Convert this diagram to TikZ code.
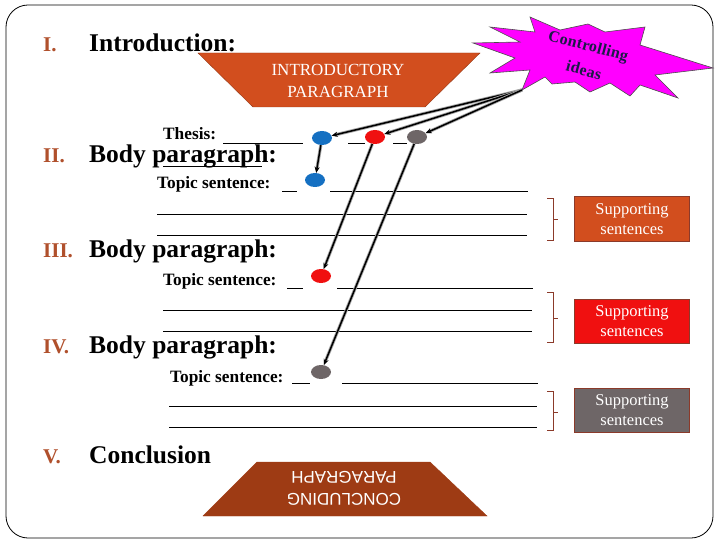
\documentclass[tikz,border=0pt]{standalone}
\usepackage{fontspec}
\setmainfont{Liberation Serif}
\newfontfamily\arialfont{Liberation Sans}
\usetikzlibrary{shapes.geometric,arrows.meta}
\definecolor{numcol}{HTML}{B0502C}
\definecolor{introcol}{HTML}{D24E1E}
\definecolor{conccol}{HTML}{9E3B14}
\definecolor{bluedot}{HTML}{1570C2}
\definecolor{reddot}{HTML}{F01010}
\definecolor{greydot}{HTML}{6E6667}
\definecolor{burstcol}{HTML}{FF00FF}
\definecolor{inkcol}{HTML}{1C1A48}
\definecolor{bracecol}{HTML}{8B3A2A}

\begin{document}
\begin{tikzpicture}[
      x=1pt, y=-1pt,
      num/.style={anchor=base west,inner sep=0pt,text=numcol,font=\fontsize{21}{24}\selectfont\bfseries},
      head/.style={anchor=base west,inner sep=0pt,font=\fontsize{25.5}{28}\selectfont\bfseries},
      small/.style={anchor=base west,inner sep=0pt,font=\fontsize{17.3}{20}\selectfont\bfseries},
      idea/.style={rotate=-15,text=inkcol,inner sep=0pt,font=\addfontfeatures{LetterSpace=2}\fontsize{16}{18}\selectfont\bfseries},
      dot/.style={ellipse,inner sep=0pt,minimum width=20pt,minimum height=14pt},
      blank/.style={line width=0.8pt},
      link/.style={-{Stealth[length=6pt,width=5pt]},line width=1.5pt,
        preaction={draw=gray!70,line width=3.2pt}},
      support/.style={draw=bracecol,line width=1pt,text=white,align=center,
        minimum width=115pt,minimum height=44pt,inner sep=0pt,
        font=\fontsize{16.5}{20}\selectfont},
      brace/.style={draw=bracecol,line width=0.8pt}
    ]
    \useasboundingbox (0,0) rectangle (720,540);
    \draw[line width=0.8pt,rounded corners=22pt] (6,5) rectangle (713,538);

    \filldraw[fill=introcol,draw=introcol!70!black] (198,53) -- (480,53) -- (425,107) -- (253,107) -- cycle;
    \node (intro) [text=white,align=center,font=\fontsize{17}{22}\selectfont] at (338,81) {INTRODUCTORY\\PARAGRAPH};

    \filldraw[fill=conccol,draw=conccol] (257,462) -- (430,462) -- (487,516) -- (203,516) -- cycle;
    \node (concl) [rotate=180,text=white,align=center,font=\arialfont\fontsize{17}{22}\selectfont] at (344,488) {CONCLUDING\\PARAGRAPH};

    \filldraw[fill=burstcol,draw=black!70,line width=0.6pt]
      (473,43) -- (520,42) -- (490,27) -- (535,32) -- (530,17) -- (560,30) -- (588,24) -- (605,32)
      -- (645,27) -- (640,45) -- (713,68) -- (655,75) -- (678,98) -- (640,85) -- (630,96) -- (610,83)
      -- (590,92) -- (575,82) -- (552,84) -- (545,77) -- (522,90) -- (530,70) -- (490,73) -- (515,58) -- cycle;
    \node (ideas1) [idea] at (588,47) {Controlling};
    \node (ideas2) [idea] at (584,70) {ideas};
    \coordinate (burst) at (522,90);

    \node (n1) [num] at (43,52) {I.};
    \node (h1) [head] at (89,52) {Introduction:};
    \node (thesis) [small] at (163,140) {Thesis:};
    \draw[blank] (223,143) -- (303,143) (348,143) -- (365,143) (393,143) -- (407,143);

    \node (n2) [num] at (43,163) {II.};
    \node (h2) [head] at (89,163) {Body paragraph:};
    \draw[blank] (163,166) -- (262,166);
    \node (ts1) [small] at (157,189) {Topic sentence:};
    \draw[blank] (282,191) -- (297,191) (330,191) -- (528,191) (157,214) -- (527,214) (157,235) -- (527,235);

    \node (n3) [num] at (43,258) {III.};
    \node (h3) [head] at (89,258) {Body paragraph:};
    \node (ts2) [small] at (163,285) {Topic sentence:};
    \draw[blank] (287,288) -- (303,288) (337,288) -- (533,288) (163,310) -- (532,310) (163,331) -- (532,331);

    \node (n4) [num] at (43,353) {IV.};
    \node (h4) [head] at (89,353) {Body paragraph:};
    \node (ts3) [small] at (170,382) {Topic sentence:};
    \draw[blank] (292,383) -- (310,383) (342,383) -- (538,383) (169,406) -- (537,406) (169,427) -- (537,427);

    \node (n5) [num] at (43,463) {V.};
    \node (h5) [head] at (89,463) {Conclusion};

    \node (t1) [dot,fill=bluedot] at (322,138) {};
    \node (t2) [dot,fill=reddot] at (375,137) {};
    \node (t3) [dot,fill=greydot] at (417,137) {};
    \node (b1) [dot,fill=bluedot] at (315,180) {};
    \node (b2) [dot,fill=reddot] at (321,276) {};
    \node (b3) [dot,fill=greydot] at (321,372) {};

    \draw[link] (burst) -- (t1);
    \draw[link] (burst) -- (t2);
    \draw[link] (burst) -- (t3);
    \draw[link] (t1) -- (b1);
    \draw[link] (t2) -- (b2);
    \draw[link] (t3) -- (b3);

    \draw[brace] (547,198) -- (553,198) -- (553,240) -- (547,240) (553,219) -- (558,219);
    \draw[brace] (547,292) -- (553,292) -- (553,342) -- (547,342) (553,318) -- (558,318);
    \draw[brace] (547,391) -- (553,391) -- (553,430) -- (547,430) (553,412) -- (558,412);

    \node (s1) [support,fill=introcol] at (632,219) {Supporting\\sentences};
    \node (s2) [support,fill=reddot] at (632,321) {Supporting\\sentences};
    \node (s3) [support,fill=greydot] at (632,410) {Supporting\\sentences};
  \end{tikzpicture}
\end{document}
